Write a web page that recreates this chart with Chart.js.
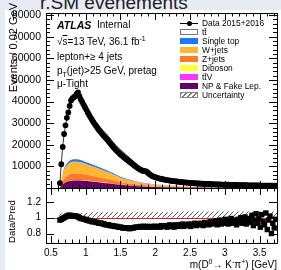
<!DOCTYPE html>
<html>
<head>
<meta charset="utf-8">
<script src="https://cdn.jsdelivr.net/npm/chart.js@4.4.1/dist/chart.umd.min.js"></script>
<style>
  body { margin: 0; width: 281px; height: 270px; overflow: hidden; position: relative; background: #e9ebf4; font-family: "Liberation Sans", Arial, sans-serif; }
  #sheet { position: absolute; left: 5px; top: 10px; width: 276px; height: 260px; background: #fff; }
  #slideTitle { position: absolute; left: 40px; top: -7px; font-size: 19px; color: #222; white-space: nowrap; line-height: 1; }
  canvas { position: absolute; left: 0; top: 0; }
  .t { position: absolute; white-space: nowrap; line-height: 1; color: #000; }
  .leg { position: absolute; left: 180px; font-size: 8.4px; line-height: 1; }
  .sw { position: absolute; left: 0; top: -3px; width: 18px; height: 6px; box-sizing: border-box; }
  .lab { position: absolute; left: 22px; top: -4.3px; white-space: nowrap; }
  sup, sub { font-size: 70%; line-height: 0; }
  .rot { position: absolute; transform-origin: 0 0; transform: rotate(-90deg); white-space: nowrap; line-height: 1; }
</style>
</head>
<body>
<div id="slideTitle">r.SM evenements</div>
<div id="sheet"></div>
<canvas id="main" width="281" height="270"></canvas>
<canvas id="ratio" width="281" height="270"></canvas>

<div class="t" style="left:57px;top:19.8px;font-size:10.5px;font-weight:bold;font-style:italic">ATLAS</div>
<div class="t" style="left:97px;top:20px;font-size:10px">Internal</div>
<div class="t" style="left:57px;top:37px;font-size:10px">&#8730;<span style="text-decoration:overline">s</span>=13 TeV, 36.1 fb<sup>-1</sup></div>
<div class="t" style="left:57px;top:52px;font-size:10px">lepton+&#8805; 4 jets</div>
<div class="t" style="left:57px;top:66px;font-size:10px">p<sub>T</sub>(jet)&gt;25 GeV, pretag</div>
<div class="t" style="left:57px;top:79px;font-size:10px">&#956;-Tight</div>

<div class="rot" style="left:8px;top:98px;width:95px;text-align:right;font-size:11px">Events / 0.02 GeV</div>
<div class="rot" style="left:7px;top:249px;width:55px;text-align:center;font-size:9.5px">Data/Pred</div>
<div class="t" style="right:4px;top:260px;font-size:10px">m(D<sup>0</sup>&#8594; K<sup>-</sup>&#960;<sup>+</sup>) [GeV]</div>

<div id="legend"></div>

<script>
// series names (legend order)
const seriesNames = ['Data 2015+2016', 't' + 't\u0304', 'Single top', 'W+jets', 'Z+jets', 'Diboson', 't' + 't\u0304' + 'V', 'NP & Fake Lep.', 'Uncertainty'];

// data: bins of 0.02 GeV starting at 0.63
const binStart = 0.63;
const binWidth = 0.02;
const dataVals = [
  2300, 11000, 19000, 25000, 29000, 32500, 35000, 38000, 40500, 41500,
  42000, 42500, 43500, 44200, 42500, 41000, 39800, 38600, 37400, 36200,
  35000, 33800, 32700, 31600, 30600, 29600, 28700, 27800, 26900, 26100,
  25300, 24500, 23800, 23100, 22400, 21600, 20800, 20000, 19200, 18500,
  17800, 17100, 16500, 15900, 15300, 14800, 14200, 13700, 13200, 12700,
  12200, 11700, 11200, 10700, 10200, 9700, 9200, 8800, 8400, 8100,
  7900, 7800, 7700, 7200, 6600, 6100, 5700, 5400, 5100, 4900,
  4700, 4500, 4350, 4200, 4050, 3900, 3780, 3650, 3550, 3450,
  3350, 3260, 3170, 3080, 3000, 2920, 2850, 2780, 2710, 2640,
  2580, 2520, 2460, 2400, 2350, 2300, 2250, 2200, 2160, 2120,
  2080, 2040, 2000, 1960, 1930, 1900, 1870, 1840, 1810, 1780,
  1750, 1720, 1700, 1670, 1650, 1620, 1600, 1580, 1560, 1540,
  1520, 1500, 1480, 1460, 1440, 1420, 1400, 1390, 1370, 1350,
  1340, 1320, 1300, 1290, 1270, 1260, 1240, 1230, 1220, 1200,
  1190, 1180, 1170, 1150, 1140, 1130, 1120, 1110, 1100, 1090,
  1080, 1070, 1060, 1050, 1040, 1030
];
// Data / Pred, same bins
const ratioVals = [
  0.97, 0.98, 0.99, 1.00, 1.01, 1.02, 1.03, 1.03, 1.03, 1.02, 1.02, 1.02, 1.02, 1.01,
  1.00, 0.99, 0.99, 0.98, 0.98, 0.97, 0.97, 0.96, 0.96, 0.95, 0.95, 0.95, 0.94, 0.94, 0.93, 0.93, 0.93,
  0.92, 0.92, 0.91, 0.91, 0.91, 0.90, 0.90, 0.90, 0.89, 0.89, 0.89, 0.88, 0.88, 0.88, 0.87, 0.87, 0.87, 0.87, 0.87, 0.86,
  0.87, 0.87, 0.87, 0.88, 0.88, 0.88, 0.88, 0.89, 0.88, 0.89, 0.89, 0.88, 0.89, 0.88, 0.88, 0.89, 0.88, 0.89, 0.89, 0.88,
  0.89, 0.88, 0.90, 0.89, 0.89, 0.90, 0.88, 0.89, 0.91, 0.89, 0.90, 0.88, 0.91, 0.90, 0.89, 0.91, 0.90, 0.92, 0.89, 0.91,
  0.90, 0.92, 0.91, 0.89, 0.92, 0.91, 0.93, 0.90, 0.92, 0.91,
  0.93, 0.92, 0.90, 0.94, 0.92, 0.93, 0.91, 0.95, 0.92, 0.94, 0.93, 0.96, 0.91, 0.94, 0.97, 0.92, 0.95, 0.93, 0.98, 0.94,
  0.92, 0.96, 0.99, 0.93, 0.95, 0.97, 0.91, 0.98, 0.94, 1.00,
  0.93, 0.97, 1.01, 0.92, 0.96, 0.99, 0.94, 1.03, 0.90, 0.97, 1.05, 0.93, 0.99, 0.88, 1.04, 0.95, 0.91, 1.06, 0.85, 0.97,
  1.02, 0.80, 0.93, 0.87, 0.98
];

// background processes, sampled at mcX
const mcX = [0.62, 0.64, 0.66, 0.68, 0.70, 0.73, 0.76, 0.80, 0.85, 0.90, 0.95, 1.0, 1.1, 1.2, 1.3,
             1.4, 1.5, 1.6, 1.7, 1.8, 1.9, 2.0, 2.2, 2.4, 2.6, 2.8, 3.0, 3.25, 3.5, 3.75];
const npVals  = [0, 600, 1300, 1900, 2400, 2800, 3100, 3400, 3500, 3500, 3400, 3250, 2950, 2600, 2250,
                 1900, 1500, 1200, 950, 750, 600, 480, 330, 240, 180, 140, 110, 90, 70, 60];
const ttvVals = [0, 20, 40, 60, 70, 80, 90, 100, 100, 100, 100, 95, 90, 80, 70,
                 60, 50, 45, 40, 35, 30, 25, 20, 15, 12, 10, 8, 6, 5, 4];
const dibVals = [0, 20, 40, 50, 60, 70, 80, 90, 90, 90, 90, 85, 80, 70, 60,
                 55, 45, 40, 35, 30, 25, 20, 15, 12, 10, 8, 6, 5, 4, 3];
const zjVals  = [0, 550, 1200, 1750, 2150, 2500, 2750, 2950, 3000, 2950, 2850, 2700, 2450, 2150, 1850,
                 1550, 1200, 950, 750, 600, 470, 380, 270, 200, 150, 110, 85, 65, 50, 40];
const wjVals  = [0, 1100, 2400, 3500, 4300, 4950, 5350, 5500, 5500, 5450, 5200, 4950, 4400, 3850, 3250,
                 2700, 2000, 1550, 1200, 920, 720, 580, 420, 310, 230, 170, 130, 100, 80, 65];
const stVals  = [0, 200, 500, 700, 850, 950, 1000, 1050, 1100, 1100, 1050, 1000, 900, 800, 700,
                 600, 460, 380, 310, 250, 200, 165, 120, 90, 65, 50, 40, 32, 25, 20];
// relative uncertainty band (upper edge above 1)
const uncVals = [0.05, 0.05, 0.06, 0.06, 0.06, 0.06, 0.06, 0.06, 0.06, 0.06, 0.06, 0.06, 0.07, 0.07, 0.07,
                 0.07, 0.07, 0.07, 0.07, 0.07, 0.07, 0.07, 0.07, 0.08, 0.08, 0.08, 0.08, 0.08, 0.08, 0.08];

const mainTicks = [10000, 20000, 30000, 40000, 50000, 60000, 70000, 80000];
const ratioTicks = [0.8, 1, 1.2];
const xTicks = [0.5, 1, 1.5, 2, 2.5, 3, 3.5];

const colST = '#1e78ff', colW = '#ffb733', colZ = '#ff7a26', colDib = '#ffff33', colTtv = '#ff33ff', colNP = '#660066';
const FONT = 'Liberation Sans';

const xAt = i => +(binStart + i * binWidth).toFixed(2);

// ROOT-like inner ticks + frame
const rootTicks = {
  id: 'rootTicks',
  afterDraw(chart, args, o) {
    const { ctx, chartArea: a, scales } = chart;
    const sx = scales.x, sy = scales.y;
    const each = (min, max, minor, major, fn) => {
      const n0 = Math.ceil(min / minor - 1e-6), n1 = Math.floor(max / minor + 1e-6);
      for (let n = n0; n <= n1; n++) {
        const v = n * minor;
        fn(v, Math.abs(v / major - Math.round(v / major)) < 1e-6);
      }
    };
    ctx.save();
    ctx.strokeStyle = '#000';
    ctx.lineWidth = 1;
    ctx.beginPath();
    each(sx.min, sx.max, o.xMinor, o.xMajor, (v, M) => {
      const px = Math.round(sx.getPixelForValue(v)) + 0.5;
      const L = M ? o.xMajLen : o.xMinLen;
      ctx.moveTo(px, a.bottom); ctx.lineTo(px, a.bottom - L);
      ctx.moveTo(px, a.top); ctx.lineTo(px, a.top + L);
    });
    each(sy.min, sy.max, o.yMinor, o.yMajor, (v, M) => {
      const py = Math.round(sy.getPixelForValue(v)) + 0.5;
      const L = M ? o.yMajLen : o.yMinLen;
      ctx.moveTo(a.left, py); ctx.lineTo(a.left + L, py);
      ctx.moveTo(a.right, py); ctx.lineTo(a.right - L, py);
    });
    ctx.stroke();
    ctx.strokeRect(Math.round(a.left) + 0.5, Math.round(a.top) + 0.5, Math.round(a.right - a.left), Math.round(a.bottom - a.top));
    ctx.restore();
  }
};

const unityLine = {
  id: 'unityLine',
  beforeDatasetDraw(chart, args) {
    if (args.index !== 1) return;
    const { ctx, chartArea: a, scales: { y } } = chart;
    const py = Math.round(y.getPixelForValue(1)) + 0.5;
    ctx.save();
    ctx.strokeStyle = '#e02020';
    ctx.lineWidth = 1;
    ctx.beginPath(); ctx.moveTo(a.left, py); ctx.lineTo(a.right, py); ctx.stroke();
    ctx.restore();
  }
};

function makeHatch(ctx) {
  const c = document.createElement('canvas');
  c.width = 5; c.height = 5;
  const g = c.getContext('2d');
  g.strokeStyle = '#555';
  g.lineWidth = 1;
  g.beginPath();
  g.moveTo(0, 5); g.lineTo(5, 0);
  g.moveTo(-1, 1); g.lineTo(1, -1);
  g.moveTo(4, 6); g.lineTo(6, 4);
  g.stroke();
  return ctx.createPattern(c, 'repeat');
}

// stacked backgrounds (bottom to top)
const stackParts = [npVals, ttvVals, dibVals, zjVals, wjVals, stVals];
const stackCols = [colNP, colTtv, colDib, colZ, colW, colST];
let run = mcX.map(() => 0);
const stackSets = stackParts.map((arr, k) => {
  run = run.map((s, j) => s + arr[j]);
  return {
    data: mcX.map((x, j) => ({ x, y: run[j] })),
    backgroundColor: stackCols[k], borderWidth: 0, pointRadius: 0,
    fill: k === 0 ? 'origin' : '-1', cubicInterpolationMode: 'monotone', order: 5
  };
});

const dataPts = dataVals.map((v, i) => ({ x: xAt(i), y: v }));
const predPts = dataVals.map((v, i) => ({ x: xAt(i), y: v / ratioVals[i] }));
const ratioPts = ratioVals.map((r, i) => ({ x: xAt(i), y: r }));

const common = {
  responsive: false, animation: false, events: [],
  plugins: { legend: { display: false }, tooltip: { enabled: false } }
};

new Chart(document.getElementById('main'), {
  type: 'line',
  data: {
    datasets: [
      ...stackSets,
      { data: predPts, borderColor: '#000', borderWidth: 0.8, backgroundColor: '#fff', fill: 'origin', pointRadius: 0, order: 10 },
      { data: dataPts, showLine: false, pointRadius: 2.9, pointBackgroundColor: '#000', pointBorderWidth: 0, order: 0 }
    ]
  },
  options: {
    ...common,
    layout: { padding: { top: 13, right: 4, bottom: 82, left: 0 } },
    scales: {
      x: { type: 'linear', min: 0.43, max: 3.75, display: false },
      y: {
        min: 0, max: 81000,
        grid: { display: false, drawTicks: false },
        border: { display: false },
        afterFit: s => { s.width = 46; },
        afterBuildTicks: s => { s.ticks = mainTicks.map(v => ({ value: v })); },
        ticks: { padding: 5, color: '#000', font: { family: FONT, size: 10.5 }, callback: v => String(v) }
      }
    },
    plugins: {
      ...common.plugins,
      rootTicks: { xMajor: 0.5, xMinor: 0.1, xMajLen: 7, xMinLen: 3.5, yMajor: 10000, yMinor: 2000, yMajLen: 8, yMinLen: 4 }
    }
  },
  plugins: [rootTicks]
});

const rctx = document.getElementById('ratio').getContext('2d');
new Chart(rctx, {
  type: 'line',
  data: {
    datasets: [
      { data: mcX.map((x, j) => ({ x, y: 1 + uncVals[j] })), fill: { value: 1 }, backgroundColor: makeHatch(rctx), borderWidth: 0, pointRadius: 0, order: 5 },
      { data: ratioPts, showLine: false, pointStyle: 'rect', pointRadius: 3.8, pointBackgroundColor: '#000', pointBorderWidth: 0, order: 0 }
    ]
  },
  options: {
    ...common,
    layout: { padding: { top: 188, right: 4, bottom: 0, left: 0 } },
    scales: {
      x: {
        type: 'linear', min: 0.43, max: 3.75,
        grid: { display: false, drawTicks: false },
        border: { display: false },
        afterFit: s => { s.height = 27; },
        afterBuildTicks: s => { s.ticks = xTicks.map(v => ({ value: v })); },
        ticks: { padding: 4, color: '#000', maxRotation: 0, font: { family: FONT, size: 10 }, callback: v => String(v) }
      },
      y: {
        min: 0.68, max: 1.376,
        grid: { display: false, drawTicks: false },
        border: { display: false },
        afterFit: s => { s.width = 46; },
        afterBuildTicks: s => { s.ticks = ratioTicks.map(v => ({ value: v })); },
        ticks: { padding: 5, color: '#000', font: { family: FONT, size: 10 }, callback: v => String(v) }
      }
    },
    plugins: {
      ...common.plugins,
      rootTicks: { xMajor: 0.5, xMinor: 0.1, xMajLen: 7, xMinLen: 3.5, yMajor: 0.2, yMinor: 0.2, yMajLen: 8, yMinLen: 8 }
    }
  },
  plugins: [rootTicks, unityLine]
});

// legend
const legendSwatches = [
  'data',
  'background:#fff;border:1px solid #777',
  'background:' + colST,
  'background:' + colW,
  'background:' + colZ,
  'background:' + colDib,
  'background:' + colTtv,
  'background:' + colNP,
  'background:repeating-linear-gradient(135deg,#777 0 1px,#fff 1px 3.5px);border:1px solid #888'
];
const legendTop = 23.3, legendStep = 8.95;
const legend = document.getElementById('legend');
seriesNames.forEach((name, i) => {
  const row = document.createElement('div');
  row.className = 'leg';
  row.style.top = (legendTop + i * legendStep) + 'px';
  let sw;
  if (legendSwatches[i] === 'data') {
    sw = '<div class="sw"><div style="position:absolute;left:0;top:2.5px;width:18px;height:1px;background:#000"></div>' +
         '<div style="position:absolute;left:6.5px;top:0.5px;width:5px;height:5px;border-radius:50%;background:#000"></div></div>';
  } else {
    sw = '<div class="sw" style="' + legendSwatches[i] + '"></div>';
  }
  const lab = document.createElement('div');
  lab.className = 'lab';
  lab.textContent = name;
  row.innerHTML = sw;
  row.appendChild(lab);
  legend.appendChild(row);
});
</script>
</body>
</html>
